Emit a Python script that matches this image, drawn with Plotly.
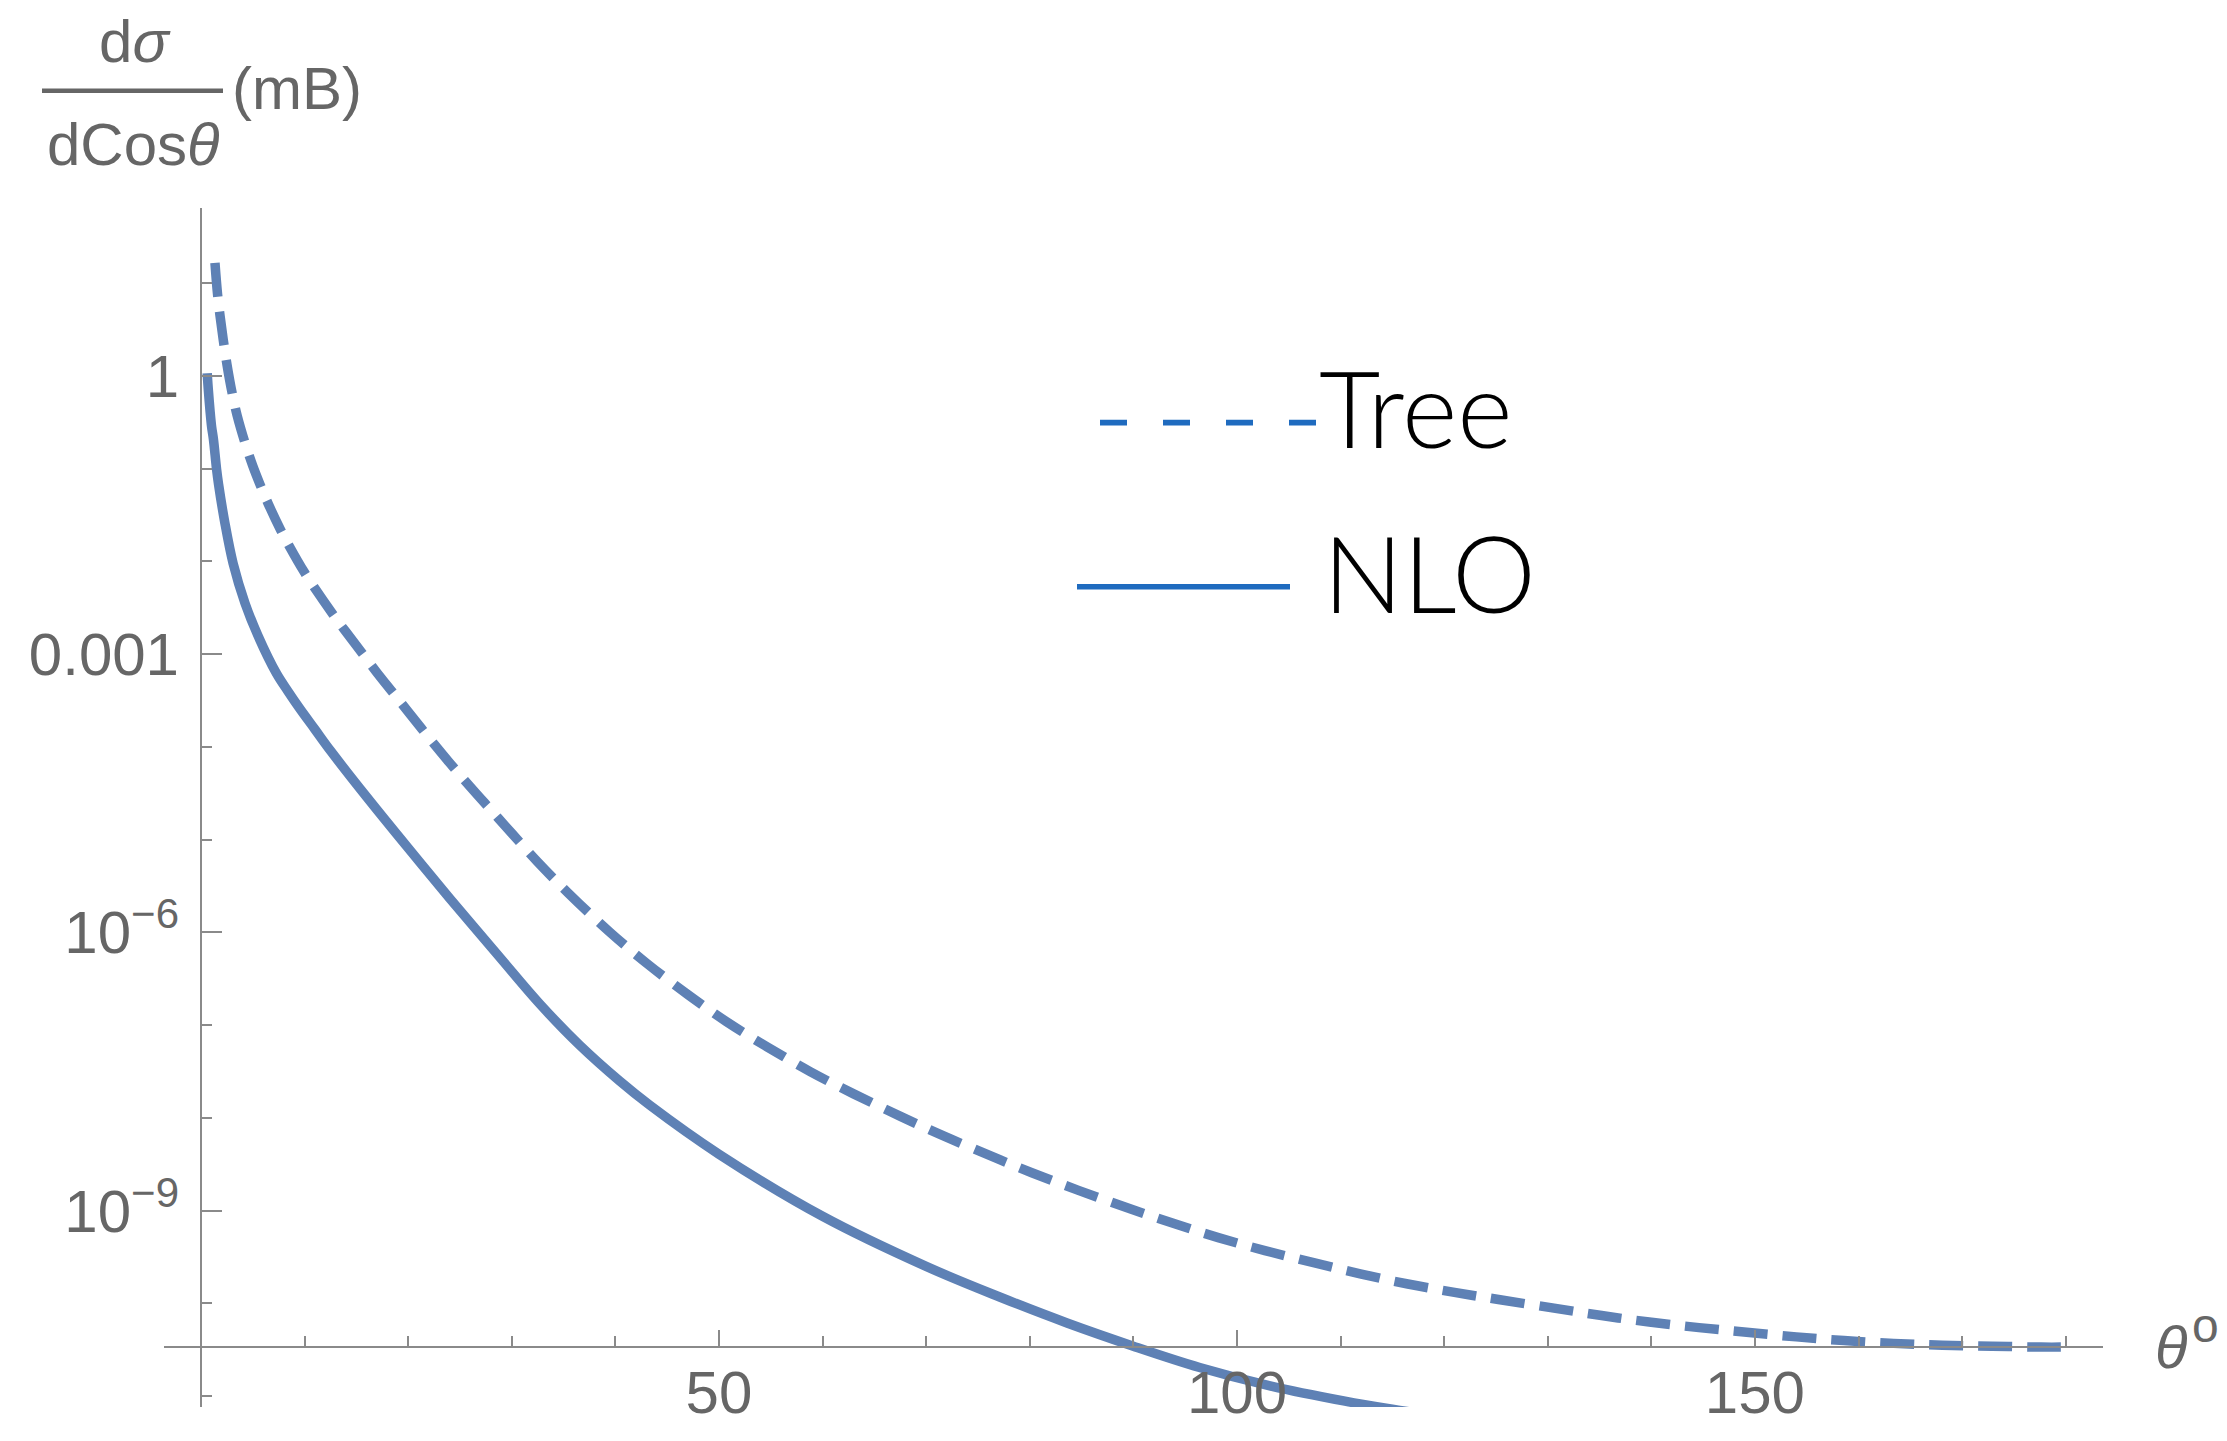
import plotly.graph_objects as go

# ---- data (y given as log10 values) ----
tree_theta = [1.35, 1.6, 1.85, 2.15, 2.5, 3.0, 3.5, 4.25, 5.0, 5.7, 6.5, 7.6, 8.5, 10.0, 11.0,
              13.0, 14.0, 15.5, 17.0, 18.5, 20.0, 22.0, 24.0, 26.0, 28.0, 30.0, 32.5, 35.5,
              39.5, 43.0, 47.0, 50.7, 54.6, 58.8, 63.0, 70.0, 77.1, 80.2, 84.7, 89.2, 93.7,
              98.2, 102.7, 107.4, 111.9, 116.5, 121.0, 125.4, 130.6, 135.2, 139.8, 144.6,
              149.2, 154.0, 158.6, 163.4, 168.1, 172.9, 177.6, 180.0]
tree_log10 = [1.22, 0.88, 0.64, 0.39, 0.13, -0.18, -0.43, -0.72, -0.97, -1.17, -1.38, -1.64,
              -1.83, -2.12, -2.29, -2.61, -2.76, -2.98, -3.20, -3.41, -3.62, -3.90, -4.17,
              -4.43, -4.68, -4.93, -5.24, -5.58, -6.00, -6.33, -6.67, -6.96, -7.23, -7.50,
              -7.74, -8.11, -8.45, -8.59, -8.78, -8.96, -9.13, -9.29, -9.43, -9.56, -9.68,
              -9.79, -9.88, -9.96, -10.05, -10.13, -10.20, -10.26, -10.31, -10.36, -10.40,
              -10.43, -10.45, -10.46, -10.47, -10.47]

nlo_theta = [0.6, 0.71, 0.87, 1.03, 1.2, 1.5, 1.7, 2.3, 3.1, 4.25, 5.5, 7.3, 8.4, 9.5, 11.0,
             12.5, 16.0, 20.0, 24.0, 28.86, 32.7, 36.6, 40.4, 43.3, 50.0, 60.0, 70.0, 77.1,
             83.6, 90.0, 96.4, 102.9, 110.3, 115.0, 118.0]
nlo_log10 = [0.03, -0.15, -0.37, -0.55, -0.68, -1.0, -1.17, -1.58, -2.02, -2.45, -2.80, -3.21,
             -3.40, -3.58, -3.81, -4.04, -4.54, -5.09, -5.63, -6.27, -6.77, -7.22, -7.60,
             -7.86, -8.39, -9.06, -9.60, -9.93, -10.21, -10.46, -10.69, -10.88, -11.05,
             -11.14, -11.19]

y_tickvals = [1, 1e-3, 1e-6, 1e-9]
y_ticktext = ["1", "0.001", "10<sup>\u22126</sup>", "10<sup>\u22129</sup>"]
y_minor = [10, 0.1, 0.01, 1e-4, 1e-5, 1e-7, 1e-8, 1e-10, 1e-11]
x_tickvals = [50, 100, 150]
x_ticktext = ["50", "100", "150"]
x_minor = [10, 20, 30, 40, 60, 70, 80, 90, 110, 120, 130, 140, 160, 170, 180]

series_names = ["Tree", "NLO"]

# ---- layout geometry (page has an 8px body margin) ----
OFF = 8
W, H = 2211, 1425
L, R, T, B = 156, 116, 200, 26
PW, PH = W - L - R, H - T - B


def px(xp):
    return (xp - OFF - L) / PW


def py(yp):
    return (H - B - (yp - OFF)) / PH


CURVE = "#5E81B5"
LEG = "#1F6BBF"
AX = "#8a8a8a"
TXT = "#666666"
FONT = "Liberation Sans, Arial, sans-serif"

fig = go.Figure()
fig.add_trace(go.Scatter(x=tree_theta, y=[10 ** v for v in tree_log10], mode="lines",
                         name=series_names[0],
                         line=dict(color=CURVE, width=9.5, dash="34px,15px", shape="spline",
                                   smoothing=1.0)))
fig.add_trace(go.Scatter(x=nlo_theta, y=[10 ** v for v in nlo_log10], mode="lines",
                         name=series_names[1],
                         line=dict(color=CURVE, width=9.5, shape="spline", smoothing=1.0)))

fig.update_layout(
    width=W, height=H, margin=dict(l=L, r=R, t=T, b=B, autoexpand=False),
    paper_bgcolor="white", plot_bgcolor="white", showlegend=False,
    xaxis=dict(range=[-3.57, 183.6], anchor="free", position=py(1347), automargin=False,
               showgrid=False, zeroline=False, showline=True, linecolor=AX, linewidth=2,
               ticks="inside", ticklen=16, tickwidth=1.6, tickcolor=AX,
               tickmode="array", tickvals=x_tickvals, ticktext=x_ticktext,
               tickfont=dict(family=FONT, size=60, color=TXT), ticklabelstandoff=-7,
               minor=dict(tickmode="array", tickvals=x_minor, ticks="inside", ticklen=10,
                          tickwidth=1.6, tickcolor=AX, showgrid=False)),
    yaxis=dict(type="log", range=[-11.116, 1.811], anchor="free", position=px(201),
               automargin=False,
               showgrid=False, zeroline=False, showline=True, linecolor=AX, linewidth=2,
               ticks="inside", ticklen=20, tickwidth=1.6, tickcolor=AX,
               tickmode="array", tickvals=y_tickvals, ticktext=y_ticktext,
               tickfont=dict(family=FONT, size=60, color=TXT), ticklabelstandoff=9,
               minor=dict(tickmode="array", tickvals=y_minor, ticks="inside", ticklen=10,
                          tickwidth=1.6, tickcolor=AX, showgrid=False)),
)

# ---- y-axis title (fraction) ----
ann = []
ann.append(dict(text="d<i>\u03c3</i>", x=px(135), y=py(62.7 - 20.8), xanchor="center",
                yanchor="middle", font=dict(family=FONT, size=60, color=TXT)))
ann.append(dict(text="dCos<i>\u03b8</i>", x=px(133), y=py(165 - 20.8), xanchor="center",
                yanchor="middle", font=dict(family=FONT, size=60, color=TXT)))
ann.append(dict(text="(mB)", x=px(231), y=py(109 - 20.8), xanchor="left",
                yanchor="middle", font=dict(family=FONT, size=60, color=TXT)))
# ---- x-axis title ----
ann.append(dict(text="<i>\u03b8</i>", x=px(2154), y=py(1368 - 20.8), xanchor="left",
                yanchor="middle", font=dict(family=FONT, size=60, color=TXT)))
ann.append(dict(text="o", x=px(2191), y=py(1342.5 - 16.6), xanchor="left",
                yanchor="middle", font=dict(family=FONT, size=48, color=TXT)))
# ---- legend texts ----
ann.append(dict(text=series_names[0], x=px(1318), y=py(448 - 41), xanchor="left",
                yanchor="middle",
                font=dict(family="Lato, sans-serif", size=106, color="black", weight=300)))
ann.append(dict(text=series_names[1], x=px(1322), y=py(612.7 - 41), xanchor="left",
                yanchor="middle",
                font=dict(family="Lato, sans-serif", size=106, color="black", weight=300)))
for a in ann:
    a.update(xref="paper", yref="paper", showarrow=False, borderpad=0)
fig.update_layout(annotations=ann)

shapes = [
    # fraction bar
    dict(type="line", x0=px(42), x1=px(223), y0=py(90.7), y1=py(90.7),
         line=dict(color=TXT, width=4.5)),
    # legend samples
    dict(type="line", x0=px(1100), x1=px(1317), y0=py(422.7), y1=py(422.7),
         line=dict(color=LEG, width=5.7, dash="27px,36px")),
    dict(type="line", x0=px(1077), x1=px(1290), y0=py(586.7), y1=py(586.7),
         line=dict(color=LEG, width=5.6)),
]
for s in shapes:
    s.update(xref="paper", yref="paper")
fig.update_layout(shapes=shapes)

fig.write_html("out.html")
